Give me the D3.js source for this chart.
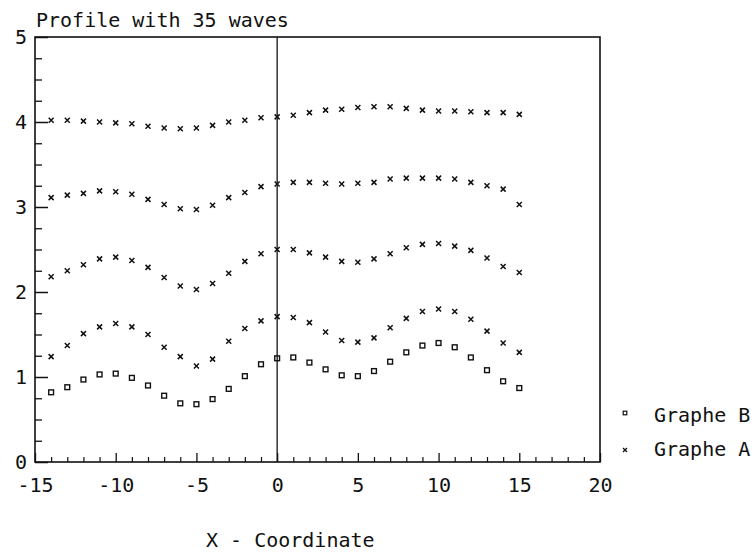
<!DOCTYPE html>
<html>
<head>
<meta charset="utf-8">
<script src="https://cdn.jsdelivr.net/npm/d3@7"></script>
<style>
  html, body { margin: 0; padding: 0; background: #fff; }
  svg { display: block; }
  text { font-family: "DejaVu Sans Mono", monospace; fill: #111; }
</style>
</head>
<body>
<svg id="chart" width="752" height="552"></svg>
<script>
// ---- data ----
const titleText = "Profile with 35 waves";
const xTitle = "X - Coordinate";
const xCoords = [-14,-13,-12,-11,-10,-9,-8,-7,-6,-5,-4,-3,-2,-1,0,1,2,3,4,5,6,7,8,9,10,11,12,13,14,15];
const graphB  = [0.82,0.88,0.97,1.03,1.04,0.99,0.90,0.78,0.69,0.68,0.74,0.86,1.01,1.15,1.22,
                 1.23,1.17,1.09,1.02,1.01,1.07,1.18,1.29,1.37,1.40,1.35,1.23,1.08,0.95,0.87];
const graphA1 = [1.24,1.37,1.51,1.59,1.63,1.59,1.50,1.35,1.24,1.13,1.21,1.42,1.57,1.66,1.71,
                 1.70,1.64,1.53,1.43,1.41,1.46,1.58,1.69,1.77,1.80,1.77,1.68,1.54,1.40,1.29];
const graphA2 = [2.18,2.25,2.32,2.39,2.41,2.37,2.29,2.17,2.07,2.03,2.10,2.22,2.36,2.45,2.50,
                 2.50,2.46,2.41,2.36,2.35,2.39,2.45,2.52,2.56,2.57,2.54,2.49,2.40,2.30,2.23];
const graphA3 = [3.11,3.14,3.16,3.19,3.18,3.15,3.09,3.03,2.98,2.97,3.02,3.11,3.17,3.24,3.27,
                 3.29,3.29,3.28,3.27,3.28,3.29,3.33,3.34,3.34,3.34,3.33,3.29,3.25,3.21,3.03];
const graphA4 = [4.02,4.02,4.01,4.00,3.99,3.98,3.95,3.93,3.92,3.93,3.96,4.00,4.02,4.05,4.06,
                 4.08,4.11,4.14,4.15,4.17,4.18,4.18,4.16,4.14,4.13,4.13,4.12,4.11,4.11,4.09];
const xMajorTicks = [-15,-10,-5,0,5,10,15,20];
const xMinorTicks = [-14,-13,-12,-11,-9,-8,-7,-6,-4,-3,-2,-1,1,2,3,4,6,7,8,9,11,12,13,14,16,17,18,19];
const yMajorTicks = [0,1,2,3,4,5];
const yMinorTicks = [0.25,0.5,0.75,1.25,1.5,1.75,2.25,2.5,2.75,3.25,3.5,3.75,4.25,4.5,4.75];
const legendLabels = ["Graphe B", "Graphe A"];

// ---- layout ----
const svg = d3.select("#chart");
const x = d3.scaleLinear().domain([-15, 20]).range([35, 600]);
const y = d3.scaleLinear().domain([0, 5]).range([462, 37]);
const ink = "#111";

// frame
svg.append("rect")
  .attr("x", x(-15)).attr("y", y(5))
  .attr("width", x(20) - x(-15)).attr("height", y(0) - y(5))
  .attr("fill", "none").attr("stroke", ink).attr("stroke-width", 1.6);

// vertical line at x = 0
svg.append("line")
  .attr("x1", x(0)).attr("x2", x(0)).attr("y1", y(0)).attr("y2", y(5))
  .attr("stroke", ink).attr("stroke-width", 1.3);

// x axis: minor ticks
svg.append("g").attr("transform", `translate(0,${y(0)})`)
  .call(d3.axisBottom(x).tickValues(xMinorTicks).tickSize(-5).tickFormat(""))
  .call(g => g.select(".domain").remove())
  .call(g => g.selectAll("line").attr("stroke", ink).attr("stroke-width", 1.2));

// x axis: major ticks + labels
svg.append("g").attr("transform", `translate(0,${y(0)})`)
  .call(d3.axisBottom(x).tickValues(xMajorTicks).tickSize(-9).tickFormat(d => String(d)))
  .call(g => g.select(".domain").remove())
  .call(g => g.selectAll("line").attr("stroke", ink).attr("stroke-width", 1.3))
  .call(g => g.selectAll("text")
      .attr("y", 30).attr("dy", 0)
      .attr("font-size", 20).attr("font-family", "DejaVu Sans Mono").attr("fill", ink));

// y axis: minor ticks
svg.append("g").attr("transform", `translate(${x(-15)},0)`)
  .call(d3.axisLeft(y).tickValues(yMinorTicks).tickSize(-7).tickFormat(""))
  .call(g => g.select(".domain").remove())
  .call(g => g.selectAll("line").attr("stroke", ink).attr("stroke-width", 1.3));

// y axis: major ticks + labels
svg.append("g").attr("transform", `translate(${x(-15)},0)`)
  .call(d3.axisLeft(y).tickValues(yMajorTicks).tickSize(-13).tickFormat(d => String(d)))
  .call(g => g.select(".domain").remove())
  .call(g => g.selectAll("line").attr("stroke", ink).attr("stroke-width", 1.5))
  .call(g => g.selectAll("text")
      .attr("x", -8).attr("dy", "0.32em")
      .attr("font-size", 20).attr("font-family", "DejaVu Sans Mono").attr("fill", ink));

// markers
function crossPath(cx, cy, r) {
  return `M${cx - r},${cy - r}L${cx + r},${cy + r}M${cx - r},${cy + r}L${cx + r},${cy - r}`;
}
const aSeries = [graphA1, graphA2, graphA3, graphA4];
const gA = svg.append("g");
aSeries.forEach(series => {
  gA.selectAll(null)
    .data(series.map((v, i) => ({ x: xCoords[i], y: v })))
    .join("path")
    .attr("d", d => crossPath(x(d.x), y(d.y), 2.5))
    .attr("stroke", ink).attr("stroke-width", 1.5).attr("fill", "none");
});
svg.append("g").selectAll("rect")
  .data(graphB.map((v, i) => ({ x: xCoords[i], y: v })))
  .join("rect")
  .attr("x", d => x(d.x) - 2.4).attr("y", d => y(d.y) - 2.4)
  .attr("width", 4.8).attr("height", 4.8)
  .attr("fill", "none").attr("stroke", ink).attr("stroke-width", 1.4);

// title
svg.append("text").attr("x", 36).attr("y", 27)
  .attr("font-size", 20).text(titleText);

// x axis title
svg.append("text").attr("x", 206).attr("y", 547)
  .attr("font-size", 20).text(xTitle);

// legend
const leg = svg.append("g");
leg.append("rect").attr("x", 625 - 1.8).attr("y", 413 - 1.8)
  .attr("width", 3.6).attr("height", 3.6)
  .attr("fill", "none").attr("stroke", ink).attr("stroke-width", 1.2);
leg.append("text").attr("x", 654).attr("y", 422).attr("font-size", 20).text(legendLabels[0]);
leg.append("path").attr("d", crossPath(625, 450, 2))
  .attr("stroke", ink).attr("stroke-width", 1.3).attr("fill", "none");
leg.append("text").attr("x", 654).attr("y", 456).attr("font-size", 20).text(legendLabels[1]);
</script>
</body>
</html>
